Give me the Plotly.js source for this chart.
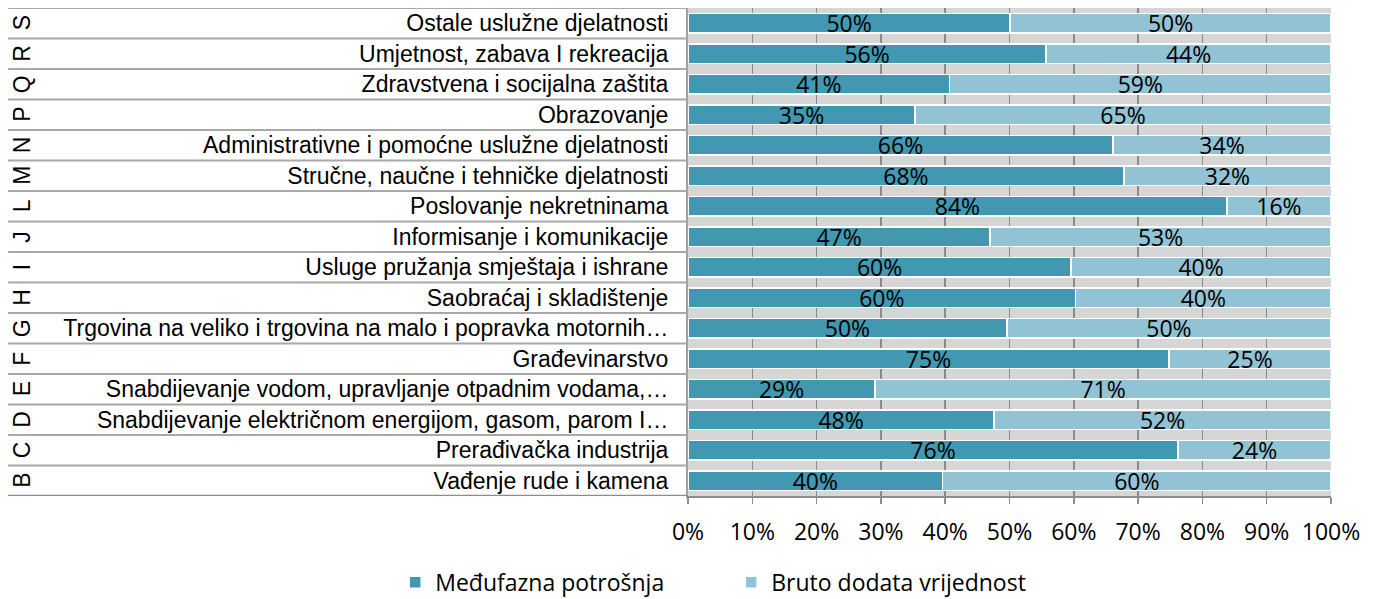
<!DOCTYPE html>
<html>
<head>
<meta charset="utf-8">
<script src="https://cdn.plot.ly/plotly-3.0.1.min.js"></script>
<style>html,body{margin:0;padding:0;background:#fff;}#chart{width:1377px;height:599px;}</style>
</head>
<body>
<div id="chart"></div>
<script>
// Categories listed bottom to top
const codes = ["B","C","D","E","F","G","H","I","J","L","M","N","P","Q","R","S"];
const categories = [
  "Vađenje rude i kamena",
  "Prerađivačka industrija",
  "Snabdijevanje električnom energijom, gasom, parom I…",
  "Snabdijevanje vodom, upravljanje otpadnim vodama,…",
  "Građevinarstvo",
  "Trgovina na veliko i trgovina na malo i popravka motornih…",
  "Saobraćaj i skladištenje",
  "Usluge pružanja smještaja i ishrane",
  "Informisanje i komunikacije",
  "Poslovanje nekretninama",
  "Stručne, naučne i tehničke djelatnosti",
  "Administrativne i pomoćne uslužne djelatnosti",
  "Obrazovanje",
  "Zdravstvena i socijalna zaštita",
  "Umjetnost, zabava I rekreacija",
  "Ostale uslužne djelatnosti"
];
const medjufazna = [39.6, 76.2, 47.6, 29.1, 74.8, 49.6, 60.3, 59.6, 47.0, 83.8, 67.8, 66.1, 35.3, 40.7, 55.7, 50.1];
const bruto      = [60.4, 23.8, 52.4, 70.9, 25.2, 50.4, 39.7, 40.4, 53.0, 16.2, 32.2, 33.9, 64.7, 59.3, 44.3, 49.9];
const seriesNames = ["Međufazna potrošnja", "Bruto dodata vrijednost"];
const xTickVals = [0,10,20,30,40,50,60,70,80,90,100];
const xTickText = ["0%","10%","20%","30%","40%","50%","60%","70%","80%","90%","100%"];

const labelFont = {family: "Open Sans, sans-serif", size: 23, color: "#000"};

function mkTrace(vals, name, color, legendId) {
  return {
    type: "bar", orientation: "h",
    x: vals, y: categories, name: name, legend: legendId,
    marker: {color: color, line: {color: "#ffffff", width: 1.5}},
    text: vals.map(v => Math.round(v) + "%"),
    textposition: "inside", insidetextanchor: "middle",
    textangle: 0, constraintext: "none",
    insidetextfont: labelFont,
    hoverinfo: "skip"
  };
}

const traces = [
  mkTrace(medjufazna, seriesNames[0], "#4298B0", "legend"),
  mkTrace(bruto, seriesNames[1], "#92C3D5", "legend2")
];

const plotL = 688, plotW = 643;
const leftEdge = (8 - plotL) / plotW;
const letterX = (22 - plotL) / plotW;

const shapes = [];
for (let k = 0; k <= categories.length; k++) {
  const yv = k - 0.5;
  shapes.push({
    type: "line", xref: "paper", yref: "y",
    x0: leftEdge, x1: 0, y0: yv, y1: yv,
    line: {color: k === 0 ? "#8c8c8c" : "#a8a8a8", width: k === 0 ? 2.5 : 2}
  });
}

const annotations = codes.map((c, i) => ({
  xref: "paper", yref: "y", x: letterX, y: i,
  text: c, showarrow: false, textangle: -90,
  font: {family: "Liberation Sans, Arial, sans-serif", size: 23, color: "#000"},
  xanchor: "center", yanchor: "middle"
}));

const legendFont = {family: "Open Sans, sans-serif", size: 23, color: "#000"};
function mkLegend(xpos) {
  return {
    orientation: "h", xref: "container", yref: "container",
    x: xpos, xanchor: "left", y: 0.028, yanchor: "middle",
    font: legendFont, bgcolor: "rgba(0,0,0,0)"
  };
}

const layout = {
  width: 1377, height: 599,
  margin: {l: 688, r: 46, t: 8, b: 103},
  barmode: "stack", bargap: 0.35,
  paper_bgcolor: "#ffffff",
  plot_bgcolor: "#d6d6d6",
  showlegend: true,
  legend: mkLegend(0.287),
  legend2: mkLegend(0.531),
  xaxis: {
    range: [0, 100], tickmode: "array", tickvals: xTickVals, ticktext: xTickText,
    showgrid: true, gridcolor: "#8a8a8a", gridwidth: 1.5,
    zeroline: false,
    showline: true, linecolor: "#8c8c8c", linewidth: 2,
    ticks: "outside", ticklen: 6, tickcolor: "#8c8c8c", tickwidth: 1.5,
    tickfont: labelFont, ticklabelstandoff: 8,
    fixedrange: true
  },
  yaxis: {
    type: "category", categoryorder: "array", categoryarray: categories,
    range: [-0.5, categories.length - 0.5],
    showgrid: false, zeroline: false,
    showline: true, linecolor: "#a0a0a0", linewidth: 2,
    ticks: "", ticklabelstandoff: 13,
    tickfont: {family: "Liberation Sans, Arial, sans-serif", size: 23, color: "#000"},
    fixedrange: true
  },
  shapes: shapes,
  annotations: annotations
};

Plotly.newPlot("chart", traces, layout, {displayModeBar: false, staticPlot: true});
</script>
</body>
</html>
